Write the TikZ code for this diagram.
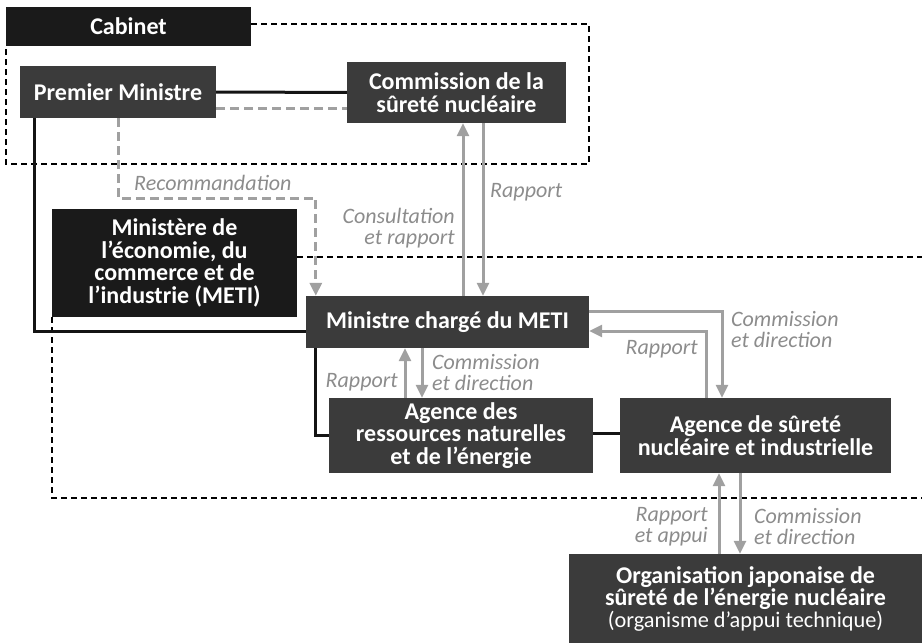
\documentclass[tikz,border=0pt]{standalone}
\usepackage{fontspec}
\setmainfont{Carlito}
\usetikzlibrary{arrows.meta}

\newcommand\boxfont{\fontsize{24}{22.5}\selectfont\bfseries}
\newcommand\lblfont{\fontsize{22}{21}\selectfont\itshape}
\newcommand\orgsmall{\fontsize{22.3}{21}\selectfont\mdseries}

\begin{document}
\begin{tikzpicture}[x=1pt,y=-1pt,
  box/.style={fill=boxgris,text=white,font=\boxfont,align=center,inner sep=0pt},
  darkbox/.style={box,fill=boxnoir},
  link/.style={line width=3pt,draw=lignenoire},
  flow/.style={line width=3pt,draw=flechegris,-{Triangle[length=13pt,width=12pt]}},
  recom/.style={line width=3pt,draw=flechegris,dash pattern=on 9pt off 5pt},
  frame/.style={line width=1.6pt,draw=black,dash pattern=on 6pt off 4pt},
  lbl/.style={text=textegris,font=\lblfont,inner sep=0pt}]

\definecolor{boxnoir}{RGB}{26,26,26}
\definecolor{boxgris}{RGB}{59,59,59}
\definecolor{lignenoire}{RGB}{20,20,20}
\definecolor{flechegris}{RGB}{160,160,160}
\definecolor{textegris}{RGB}{140,140,140}

\useasboundingbox (0,0) rectangle (922,643);

\node[darkbox,minimum width=245pt,minimum height=39pt] (cabinet) at (128.5,26.5) {Cabinet};
\node[box,minimum width=196pt,minimum height=52pt] (pm) at (118,92) {Premier Ministre};
\node[box,minimum width=219pt,minimum height=61pt] (csn) at (456.5,92.5) {Commission de la\\sûreté nucléaire};
\node[darkbox,minimum width=245pt,minimum height=108pt] (meti) at (174.5,263)
  {Ministère de\\l’économie, du\\commerce et de\\l’industrie (METI)};
\node[box,minimum width=283pt,minimum height=52pt] (min) at (447.5,322) {Ministre chargé du METI};
\node[box,minimum width=264pt,minimum height=75pt] (are) at (461,435.5)
  {Agence des\\ressources naturelles\\et de l’énergie};
\node[box,minimum width=271pt,minimum height=75pt] (asn) at (755.5,435.5)
  {Agence de sûreté\\nucléaire et industrielle};
\node[box,minimum width=353pt,minimum height=89pt] (org) at (745.5,598.5)
  {Organisation japonaise de\\sûreté de l’énergie nucléaire\\[-1pt]{\orgsmall (organisme d’appui technique)}};

\draw[frame] (cabinet.east |- 0,24) -| (589,164) -| (cabinet.south west);
\draw[frame] (meti.east |- 0,257) -- (922,257);
\draw[frame] (meti.south west) |- (922,498);

\draw[link] (pm) -- (csn);
\draw[link] ([xshift=15pt]pm.south west) |- ([yshift=-9pt]min.west);
\draw[link] ([xshift=10pt]min.south west) |- (are.west);
\draw[link] (are.east |- 0,433) -- (asn.west |- 0,433);

\draw[recom] ([yshift=-16pt]pm.east) coordinate (r1) -- (r1 -| csn.west);
\draw[recom,-{Triangle[length=13pt,width=12pt]}] (pm.south) -- ++(0,80) -| ([xshift=10pt]min.north west);
\node[lbl,anchor=west] (lrec) at (134,183) {Recommandation};

\draw[flow] (min.north -| 463,0) -- (csn.south -| 463,0);
\draw[flow] (csn.south -| 483,0) -- (min.north -| 483,0);
\node[lbl,anchor=east,align=right] (lcons) at (455,228) {Consultation\\et rapport};
\node[lbl,anchor=west] (lrap1) at (490,192) {Rapport};

\draw[flow] (are.north -| 405,0) -- (min.south -| 405,0);
\draw[flow] (min.south -| 422,0) -- (are.north -| 422,0);
\node[lbl,anchor=east] (lrap2) at (398,382) {Rapport};
\node[lbl,anchor=west,align=left] (lcom1) at (432,373) {Commission\\et direction};

\draw[flow] ([yshift=11pt]min.east) -| (asn.north -| 722,0);
\draw[flow] (asn.north -| 706,0) |- ([yshift=-9pt]min.east);
\node[lbl,anchor=east] (lrap3) at (698,349) {Rapport};
\node[lbl,anchor=west,align=left] (lcom2) at (731,330) {Commission\\et direction};

\draw[flow] (org.north -| 719,0) -- (asn.south -| 719,0);
\draw[flow] (asn.south -| 740,0) -- (org.north -| 740,0);
\node[lbl,anchor=east,align=right] (lappui) at (708,527) {Rapport\\et appui};
\node[lbl,anchor=west,align=left] (lcom3) at (754,527) {Commission\\et direction};

\end{tikzpicture}
\end{document}
